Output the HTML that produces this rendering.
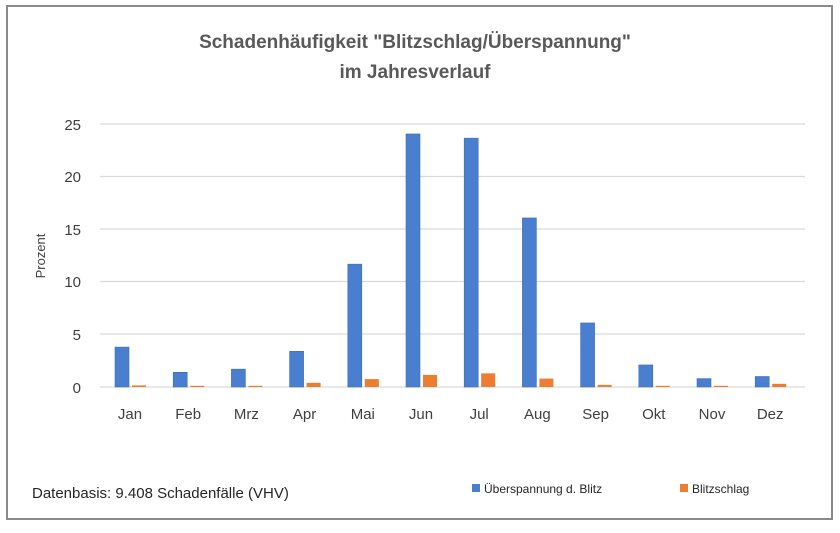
<!DOCTYPE html><html><head><meta charset="utf-8"><style>
body{margin:0;background:#fff;width:840px;height:528px;overflow:hidden}
</style></head><body>
<svg width="840" height="528" xmlns="http://www.w3.org/2000/svg" font-family="Liberation Sans, sans-serif">
<rect x="0" y="0" width="840" height="528" fill="#fff"/>
<rect x="7" y="6" width="825" height="513" fill="none" stroke="#8a8a8a" stroke-width="2"/>
<text x="415" y="48" text-anchor="middle" font-size="19" font-weight="bold" fill="#595959">Schadenhäufigkeit "Blitzschlag/Überspannung"</text>
<text x="415" y="78" text-anchor="middle" font-size="19" font-weight="bold" fill="#595959">im Jahresverlauf</text>
<g stroke="#d9d9d9" stroke-width="1.3">
<line x1="100" x2="805" y1="124" y2="124"/><line x1="100" x2="805" y1="176.5" y2="176.5"/>
<line x1="100" x2="805" y1="229" y2="229"/><line x1="100" x2="805" y1="281.5" y2="281.5"/>
<line x1="100" x2="805" y1="334" y2="334"/><line x1="100" x2="805" y1="387" y2="387"/>
</g>
<g font-size="15" fill="#404040" text-anchor="end">
<text x="81" y="130">25</text><text x="81" y="182">20</text><text x="81" y="235">15</text>
<text x="81" y="287">10</text><text x="81" y="340">5</text><text x="81" y="393">0</text>
</g>
<text transform="translate(45,256) rotate(-90)" text-anchor="middle" font-size="13" fill="#404040">Prozent</text>
<g fill="#4a7ecf" stroke="#3f6fb8" stroke-width="0.6">
<rect x="115" y="347.1" width="14" height="39.9"/>
<rect x="173.2" y="372.3" width="14" height="14.7"/>
<rect x="231.4" y="369.15" width="14" height="17.85"/>
<rect x="289.6" y="351.3" width="14" height="35.7"/>
<rect x="347.8" y="264.15" width="14" height="122.85"/>
<rect x="406" y="133.95" width="14" height="253.05"/>
<rect x="464.2" y="138.15" width="14" height="248.85"/>
<rect x="522.4" y="217.95" width="14" height="169.05"/>
<rect x="580.6" y="322.95" width="14" height="64.05"/>
<rect x="638.8" y="364.95" width="14" height="22.05"/>
<rect x="697" y="378.6" width="14" height="8.4"/>
<rect x="755.2" y="376.5" width="14" height="10.5"/>
</g>
<g fill="#ed7d31">
<rect x="132" y="385.4" width="14" height="1.6"/>
<rect x="190.2" y="385.8" width="14" height="1.2"/>
<rect x="248.4" y="385.8" width="14" height="1.2"/>
<rect x="306.6" y="382.8" width="14" height="4.2"/>
<rect x="364.8" y="379.1" width="14" height="7.9"/>
<rect x="423" y="374.9" width="14" height="12.1"/>
<rect x="481.2" y="373.35" width="14" height="13.65"/>
<rect x="539.4" y="378.6" width="14" height="8.4"/>
<rect x="597.6" y="384.9" width="14" height="2.1"/>
<rect x="655.8" y="385.8" width="14" height="1.2"/>
<rect x="714" y="385.8" width="14" height="1.2"/>
<rect x="772.2" y="383.85" width="14" height="3.15"/>
</g>
<g font-size="15" fill="#404040" text-anchor="middle">
<text x="130" y="419">Jan</text><text x="188.2" y="419">Feb</text><text x="246.4" y="419">Mrz</text>
<text x="304.6" y="419">Apr</text><text x="362.8" y="419">Mai</text><text x="421" y="419">Jun</text>
<text x="479.2" y="419">Jul</text><text x="537.4" y="419">Aug</text><text x="595.6" y="419">Sep</text>
<text x="653.8" y="419">Okt</text><text x="712" y="419">Nov</text><text x="770.2" y="419">Dez</text>
</g>
<text x="32" y="498" font-size="15" fill="#262626">Datenbasis: 9.408 Schadenfälle (VHV)</text>
<rect x="472" y="484" width="8" height="8" fill="#4a7ecf"/>
<text x="484" y="493" font-size="12" fill="#262626">Überspannung d. Blitz</text>
<rect x="680" y="484" width="8" height="8" fill="#ed7d31"/>
<text x="692" y="493" font-size="12" fill="#262626">Blitzschlag</text>
</svg>
</body></html>
